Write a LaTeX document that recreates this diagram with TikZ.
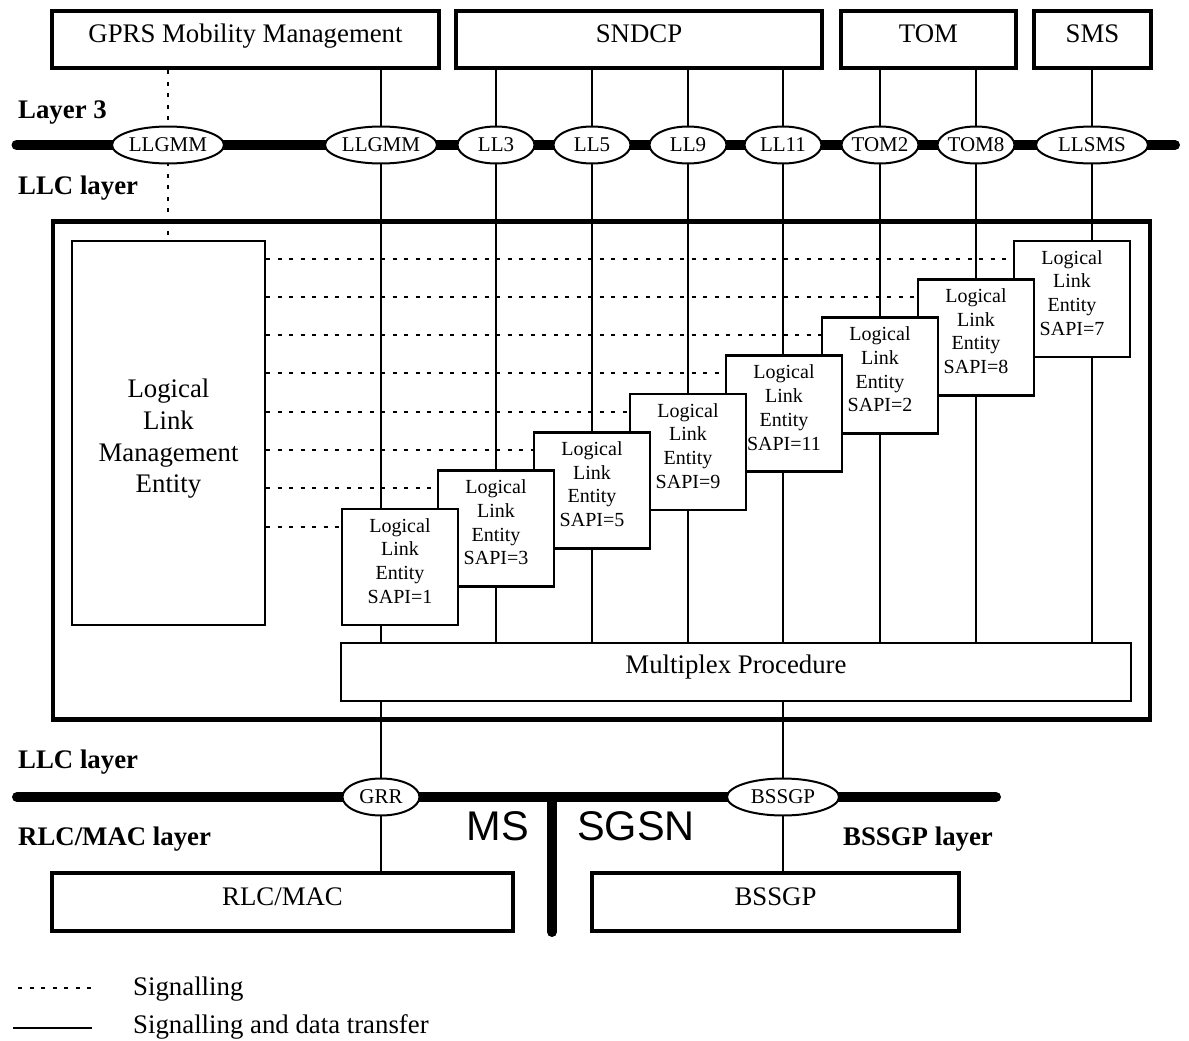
\documentclass[tikz,border=0pt]{standalone}
\usepackage{fontspec}
\setmainfont{Liberation Serif}
\setsansfont{Liberation Sans}
\usetikzlibrary{shapes.geometric}
\pgfdeclarelayer{bg}
\pgfsetlayers{bg,main}
\newcommand\stk[3]{\raisebox{0pt}[\dimexpr\height+#1\relax][\dimexpr\depth+#2\relax]{%
  \begin{tabular}{@{}c@{}}#3\end{tabular}}}

\begin{document}
\begin{tikzpicture}[x=1pt,y=-1pt,
  txt/.style={font=\fontsize{26.8pt}{31.7pt}\selectfont},
  lbl/.style={anchor=base west, inner sep=0pt, font=\fontsize{26.8pt}{31.7pt}\selectfont\bfseries},
  frame/.style={draw, line width=4.6pt, inner sep=0pt, txt, text height=15pt, text depth=8pt},
  entity/.style={draw, fill=white, line width=2.7pt, inner sep=0pt,
    minimum width=116pt, minimum height=116pt,
    font=\fontsize{20pt}{23.7pt}\selectfont},
  sap/.style={ellipse, draw, fill=white, line width=2pt, inner ysep=0pt, inner xsep=-4pt,
    minimum height=37pt, font=\fontsize{21pt}{24pt}\selectfont},
  sapl/.style={sap, minimum width=112pt},
  saps/.style={sap, minimum width=77pt},
  bus/.style={line width=10pt, line cap=round},
  link/.style={line width=1.3pt},
  sig/.style={line width=2pt, dash pattern=on 4pt off 7.5pt}]

  \useasboundingbox (0,0) rectangle (1189,1041);

  \node (gmmb) [frame, minimum width=387pt, minimum height=57pt] at (245.5,39.5) {GPRS Mobility Management};
  \node (sndcp) [frame, minimum width=366pt, minimum height=57pt] at (639,39.5) {SNDCP};
  \node (tomb) [frame, minimum width=175pt, minimum height=57pt] at (928.5,39.5) {TOM};
  \node (smsb) [frame, minimum width=117pt, minimum height=57pt] at (1092.5,39.5) {SMS};

  \node (l3) [lbl] at (18,118) {Layer 3};
  \node (llc) [lbl] at (18,194) {LLC layer};
  \node (llcb) [lbl] at (18,768) {LLC layer};
  \node (rlcl) [lbl] at (18,845) {RLC/MAC layer};
  \node (bssl) [lbl] at (843,845) {BSSGP layer};

  \coordinate (l3w) at (16.5,145);
  \coordinate (l3e) at (1175,145);
  \coordinate (llw) at (17,797);
  \coordinate (lle) at (996,797);
  \coordinate (dvt) at (552,797);
  \coordinate (dvb) at (552,932);

  \node (gmm1) [sapl] at (168,145) {LLGMM};
  \node (gmm2) [sapl] at (381,145) {LLGMM};
  \node (ll3) [saps] at (496,145) {LL3};
  \node (ll5) [saps] at (592,145) {LL5};
  \node (ll9) [saps] at (688,145) {LL9};
  \node (ll11) [saps] at (783,145) {LL11};
  \node (tom2) [saps] at (880,145) {TOM2};
  \node (tom8) [saps] at (976,145) {TOM8};
  \node (llsms) [sapl] at (1092,145) {LLSMS};

  \node (ent) [draw, line width=4.6pt, minimum width=1097pt, minimum height=498pt] at (601.5,470.5) {};
  \node (llme) [draw, line width=2.4pt, minimum width=193pt, minimum height=384pt, txt]
    at (168.5,433) {\stk{12pt}{0pt}{Logical\\Link\\Management\\Entity}};

  \node (e7) [entity] at (1072,298.9) {\stk{0pt}{8pt}{Logical\\Link\\Entity\\SAPI=7}};
  \node (e8) [entity] at (976,337.2) {\stk{0pt}{8pt}{Logical\\Link\\Entity\\SAPI=8}};
  \node (e2) [entity] at (880,375.5) {\stk{0pt}{8pt}{Logical\\Link\\Entity\\SAPI=2}};
  \node (e11) [entity] at (784,413.8) {\stk{0pt}{8pt}{Logical\\Link\\Entity\\SAPI=11}};
  \node (e9) [entity] at (688,452.1) {\stk{0pt}{8pt}{Logical\\Link\\Entity\\SAPI=9}};
  \node (e5) [entity] at (592,490.4) {\stk{0pt}{8pt}{Logical\\Link\\Entity\\SAPI=5}};
  \node (e3) [entity] at (496,528.7) {\stk{0pt}{8pt}{Logical\\Link\\Entity\\SAPI=3}};
  \node (e1) [entity] at (400,567) {\stk{0pt}{8pt}{Logical\\Link\\Entity\\SAPI=1}};

  \node (mux) [draw, line width=2pt, minimum width=790pt, minimum height=58pt, txt,
    text height=13pt, text depth=10pt] at (736,672) {Multiplex Procedure};

  \node (grr) [saps] at (381,797) {GRR};
  \node (bssgp) [sapl] at (783,797) {BSSGP};
  \node (rlc) [frame, minimum width=461pt, minimum height=58pt] at (282.5,902) {RLC/MAC};
  \node (bssb) [frame, minimum width=367pt, minimum height=58pt] at (775.5,902) {BSSGP};

  \node (ms) [anchor=base east, inner sep=0pt, font=\sffamily\fontsize{41.5pt}{48pt}\selectfont] at (529,840) {MS};
  \node (sgsn) [anchor=base west, inner sep=0pt, font=\sffamily\fontsize{41.5pt}{48pt}\selectfont] at (577,840) {SGSN};

  \coordinate (lga) at (18,988);
  \coordinate (lgb) at (92,988);
  \coordinate (lgc) at (13,1028);
  \coordinate (lgd) at (92,1028);
  \node (lgs) [anchor=base west, inner sep=0pt, txt] at (133,995) {Signalling};
  \node (lgt) [anchor=base west, inner sep=0pt, txt] at (133,1033) {Signalling and data transfer};

  \begin{pgfonlayer}{bg}
  \draw[bus] (l3w) -- (l3e);
  \draw[bus] (llw) -- (lle);
  \draw[bus] (dvt) -- (dvb);

  \draw[sig] (gmmb.south -| gmm1) -- (llme.north -| gmm1);
  \draw[link] (gmmb.south -| gmm2) -- (mux.north -| gmm2);
  \draw[link] (sndcp.south -| ll3) -- (mux.north -| ll3);
  \draw[link] (sndcp.south -| ll5) -- (mux.north -| ll5);
  \draw[link] (sndcp.south -| ll9) -- (mux.north -| ll9);
  \draw[link] (sndcp.south -| ll11) -- (mux.north -| ll11);
  \draw[link] (tomb.south -| tom2) -- (mux.north -| tom2);
  \draw[link] (tomb.south -| tom8) -- (mux.north -| tom8);
  \draw[link] (smsb.south -| llsms) -- (mux.north -| llsms);
  \draw[link] (mux.south -| grr) -- (rlc.north -| grr);
  \draw[link] (mux.south -| bssgp) -- (bssb.north -| bssgp);

  \path (node cs:name=e7,anchor=north west) +(0,19) coordinate (d7);
  \draw[sig] (d7 -| llme.east) -- (d7);
  \path (node cs:name=e8,anchor=north west) +(0,19) coordinate (d8);
  \draw[sig] (d8 -| llme.east) -- (d8);
  \path (node cs:name=e2,anchor=north west) +(0,19) coordinate (d2);
  \draw[sig] (d2 -| llme.east) -- (d2);
  \path (node cs:name=e11,anchor=north west) +(0,19) coordinate (d11);
  \draw[sig] (d11 -| llme.east) -- (d11);
  \path (node cs:name=e9,anchor=north west) +(0,19) coordinate (d9);
  \draw[sig] (d9 -| llme.east) -- (d9);
  \path (node cs:name=e5,anchor=north west) +(0,19) coordinate (d5);
  \draw[sig] (d5 -| llme.east) -- (d5);
  \path (node cs:name=e3,anchor=north west) +(0,19) coordinate (d3);
  \draw[sig] (d3 -| llme.east) -- (d3);
  \path (node cs:name=e1,anchor=north west) +(0,19) coordinate (d1);
  \draw[sig] (d1 -| llme.east) -- (d1);

  \draw[sig] (lga) -- (lgb);
  \draw[line width=1.5pt] (lgc) -- (lgd);
  \end{pgfonlayer}
\end{tikzpicture}
\end{document}
